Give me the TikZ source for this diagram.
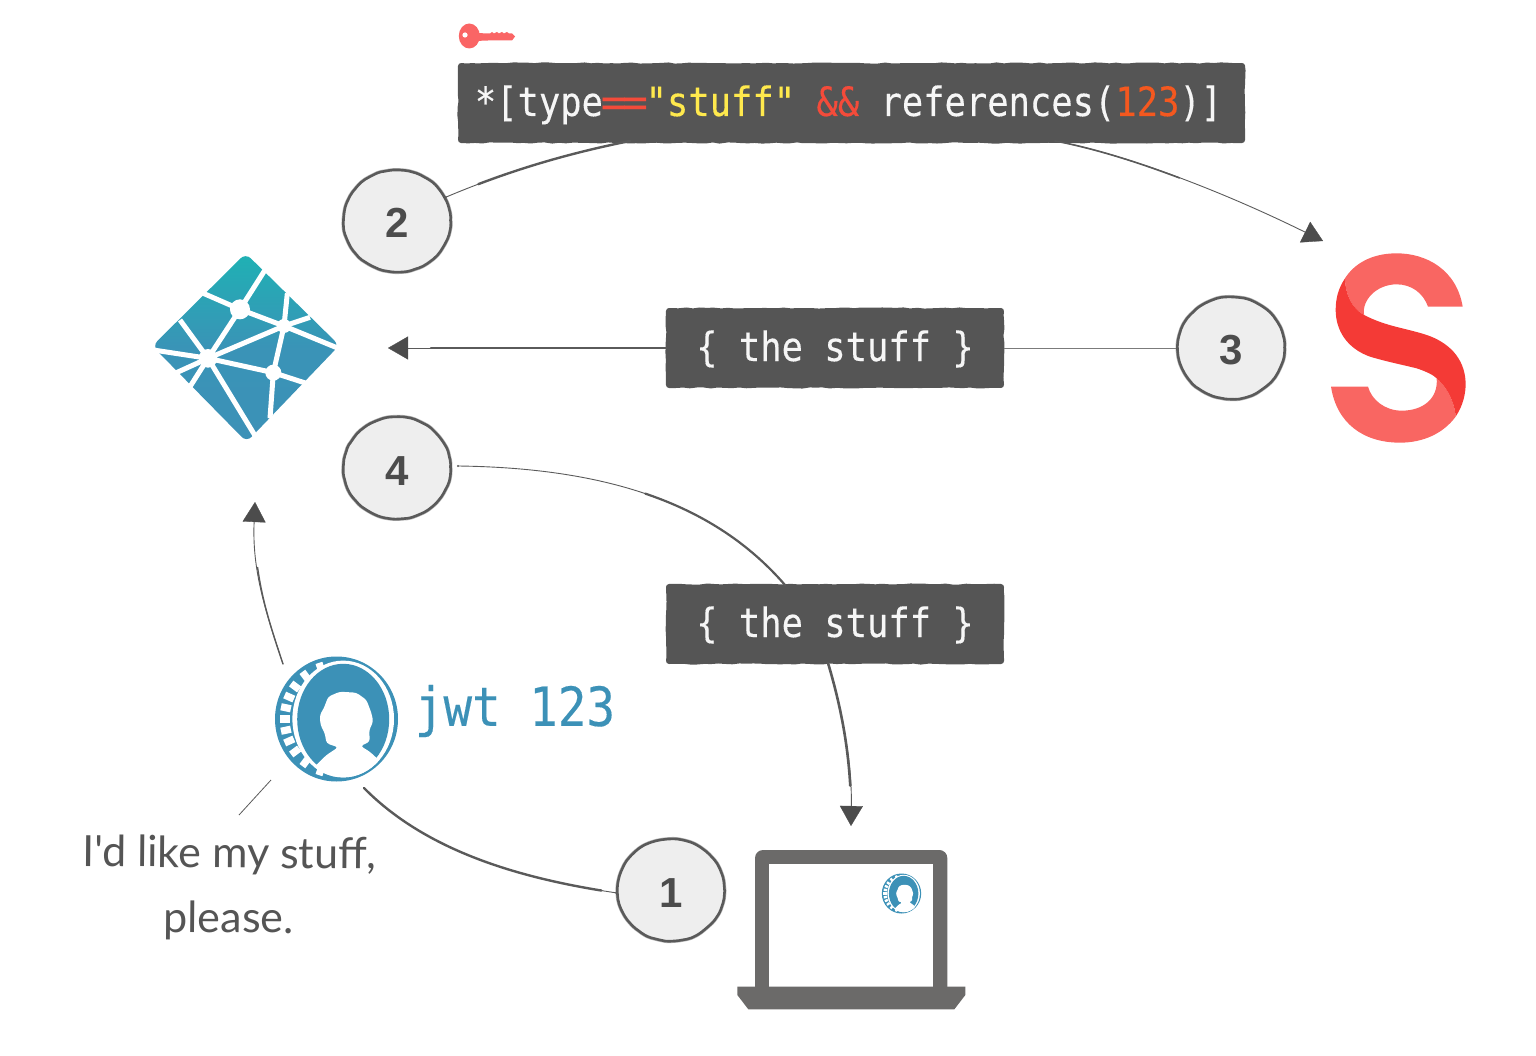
\documentclass[tikz,border=0pt]{standalone}
\usepackage{fontspec}
\usetikzlibrary{arrows.meta,decorations.pathmorphing,shapes.geometric}
\newfontfamily\codefont[FakeStretch=0.88,FakeBold=0.25]{DejaVu Sans Mono}
\newfontfamily\numfont{Liberation Sans}
\newfontfamily\handfont{Lato}
\definecolor{boxgray}{HTML}{555555}
\definecolor{inkgray}{HTML}{5A5A5A}
\definecolor{circfill}{HTML}{EEEEEE}
\definecolor{brandblue}{HTML}{3C91B7}
\definecolor{netteal}{HTML}{1FB1B4}
\definecolor{codewhite}{HTML}{F6F6F6}
\definecolor{codeyellow}{HTML}{FFE94D}
\definecolor{codered}{HTML}{F44B3A}
\definecolor{codeorange}{HTML}{F4581F}
\definecolor{slight}{HTML}{F96662}
\definecolor{sdark}{HTML}{F43A36}
\definecolor{keyred}{HTML}{FA6565}
\definecolor{laptopgray}{HTML}{6B6A69}
\tikzset{
  codebox/.style={rectangle,fill=boxgray,draw=boxgray,line width=6pt,line join=round,inner sep=0pt,
    decorate,decoration={random steps,segment length=7pt,amplitude=.6pt},
    text=codewhite,font=\codefont\fontsize{40.3}{48}\selectfont,text height=32pt,text depth=6pt},
  stepnum/.style={ellipse,fill=circfill,draw=inkgray,line width=2.6pt,inner sep=0pt,
    minimum width=107pt,minimum height=102pt,text=inkgray!85!black,font=\numfont\bfseries\fontsize{42}{48}\selectfont,
    text height=34pt,text depth=0pt,
    decorate,decoration={random steps,segment length=6pt,amplitude=.4pt},rounded corners=2pt,
    preaction={draw=inkgray!45,line width=3.8pt}},
  link/.style={draw=inkgray,line width=.9pt},
  arrowlink/.style={link,-{Triangle[length=20pt,width=23pt,color=inkgray!85!black,fill=inkgray!85!black,line width=.3pt]}},
  thinlink/.style={draw=inkgray,line width=.8pt},
  inkthick/.style n args={3}{postaction={draw=inkgray,-,line width=#1,line cap=round,
    dash pattern=on 0pt off #2 on #3 off 3000pt}},
}
\newcommand{\coinmark}[3]{%
  \begin{scope}[shift={(#1,#2)},scale=#3]
    \fill[brandblue] (0,0) ellipse [x radius=61.5,y radius=62.5];
    \foreach \t in {-72,-53,-37,-24,-12,0,12,24,37,53,72}{
      \pgfmathsetmacro{\nx}{-51.7*cos(\t)}
      \pgfmathsetmacro{\ny}{54*sin(\t)}
      \fill[white,shift={(\nx,\ny)},rotate=180+\t] (-5,-3.6) rectangle (5,3.6);
    }
    \fill[white] (6.7,0) ellipse [x radius=50.8,y radius=58.4];
    \fill[brandblue] (6.7,0.3) ellipse [x radius=46,y radius=55.5];
    \begin{scope}
    \clip (6.7,0) ellipse [x radius=50.8,y radius=58.4];
    \fill[white,rounded corners=#3*3pt] (-24,50) -- (-19.3,45) -- (-10,36) -- (1.7,28.3) -- (-10,24.3) -- (-11.7,14.3)
      -- (-16,6) -- (-16.7,-4) -- (-12.7,-10.7) -- (-8.3,-22.3) -- (3.3,-27.3) -- (20,-26.3)
      -- (30,-19) -- (35,-5.7) -- (36.7,2.7) -- (32.7,11) -- (33.3,22.7) -- (24,27) -- (33.3,32.7)
      -- (39.3,38.3) -- (46,44) -- (23.3,64) -- (-10,64) -- cycle;
    \end{scope}
  \end{scope}}
% a wide equals glyph, so that two of them run together as one double bar
\newcommand{\wideeq}{\makebox[21.35pt][c]{\scalebox{1.2}[1]{=}}}
\pgfmathsetseed{42}
\begin{document}
\begin{tikzpicture}[x=1pt,y=-1pt]
\useasboundingbox (0,0) rectangle (1536,1056);

% key
\begin{scope}[keyred]
  \fill (469.3,36) ellipse [x radius=10.5,y radius=12.5];
  \fill (475,33) -- (490,33.5) -- (492,32) -- (494,33.5) -- (497,32) -- (499,33.5) -- (502,32) -- (504,33.5)
    -- (507,32) -- (509,33.5) -- (512,33.5) -- (515,36.5) -- (512,40.5) -- (488,40.5) -- (475,41) -- cycle;
  \fill[white] (465,35) circle (2.6);
\end{scope}

% boxes
\node[codebox,minimum width=781pt,minimum height=74pt] (query) at (851.5,103)
  {*[type\textcolor{codered}{\wideeq\wideeq}\textcolor{codeyellow}{"stuff"} \textcolor{codered}{\&\&} references(\textcolor{codeorange}{123})]\hspace*{6pt}};
\node[codebox,minimum width=332pt,minimum height=74pt] (resulta) at (835,348) {\{ the stuff \}};
\node[codebox,minimum width=332pt,minimum height=74pt] (resultb) at (835,624) {\{ the stuff \}};

% step circles
\node[stepnum] (one) at (671,890) {1};
\node[stepnum] (two) at (397,221) {2};
\node[stepnum] (three) at (1231,348) {3};
\node[stepnum] (four) at (397,468) {4};

% netlify logo
\begin{scope}[shift={(130,240)},scale=1/3]
  \shade[top color=netteal,bottom color=brandblue,middle color=brandblue!92!netteal,rounded corners=7pt]
    (347,40) -- (628,316) -- (350,606) -- (67,318) -- cycle;
  \begin{scope}[white,line width=5pt]
    \draw (330,208) -- (405,90);
    \draw (330,208) -- (220,160);
    \draw (330,208) -- (462,258);
    \draw (330,208) -- (234,355);
    \draw (462,258) -- (234,355);
    \draw (462,258) -- (430,398);
    \draw (234,355) -- (430,398);
    \draw (234,355) -- (150,240);
    \draw (234,355) -- (70,330);
    \draw (234,355) -- (135,400);
    \draw (234,355) -- (180,440);
    \draw (234,355) -- (380,595);
    \draw (462,258) -- (472,160);
    \draw (462,258) -- (540,232);
    \draw (462,258) -- (625,325);
    \draw (430,398) -- (420,535);
    \draw (430,398) -- (535,432);
  \end{scope}
  \fill[white] (330,208) circle (30);
  \fill[white] (462,258) circle (21);
  \fill[white] (234,355) circle (28);
  \fill[white] (430,398) circle (24);
\end{scope}
\coordinate (netright) at (388,348);
\coordinate (netbottom) at (255,502);

% sanity logo
\begin{scope}[shift={(1300,220)},scale=1/3]
  \fill[slight] (488,260) .. controls (470,150) and (380,100) .. (290,100)
    .. controls (210,100) and (160,135) .. (135,175)
    .. controls (135,220) and (155,265) .. (192,285)
    .. controls (185,240) and (230,193) .. (290,193)
    .. controls (335,193) and (370,220) .. (384,260) -- cycle;
  \fill[slight] (93,500) -- (204,500) .. controls (215,540) and (255,572) .. (305,572)
    .. controls (370,572) and (415,535) .. (410,475)
    .. controls (450,510) and (465,560) .. (467,590)
    .. controls (430,640) and (370,668) .. (300,668)
    .. controls (190,668) and (110,610) .. (93,500) -- cycle;
  \fill[sdark] (135,175) .. controls (115,205) and (107,235) .. (107,270)
    .. controls (107,330) and (140,385) .. (210,410)
    .. controls (260,425) and (310,435) .. (350,445)
    .. controls (380,455) and (400,465) .. (410,475)
    .. controls (450,510) and (465,560) .. (467,590)
    .. controls (490,555) and (497,520) .. (497,490)
    .. controls (495,410) and (440,365) .. (380,345)
    .. controls (320,325) and (260,320) .. (192,285)
    .. controls (155,265) and (135,220) .. (135,175) -- cycle;
\end{scope}
\coordinate (sanity) at (1323,241);

% coin
\coinmark{336.5}{719}{1}
\coordinate (coinbottom) at (364,788);
\coordinate (cointop) at (283,664);
\coordinate (coinleft) at (271,780);
\coordinate (captop) at (239,815);

\node[text=brandblue,font=\codefont\fontsize{54}{60}\selectfont,inner sep=0pt] (jwt) at (515,711) {jwt 123};

% laptop
\begin{scope}[shift={(720,830)},scale=1/3]
  \fill[laptopgray,rounded corners=8pt] (105,500) -- (105,60) -- (682,60) -- (682,500) -- cycle;
  \fill[white] (148,103) rectangle (640,472);
  \fill[laptopgray] (52,470) -- (736,470) -- (736,495) -- (703,538) -- (85,538) -- (52,495) -- cycle;
\end{scope}
\coinmark{901.5}{893.5}{0.32}
\coordinate (laptop) at (851,826);

% caption
\node[text=boxgray,font=\handfont\fontsize{43}{65}\selectfont,align=center,inner sep=0pt,rotate=-0.5] (caption) at (229,888)
  {I'd like my stuff,\\please.};

% connectors
\coordinate (qa) at (630,141);
\coordinate (qb) at (1055,141);
\coordinate (ra) at (785,585);
\coordinate (rb) at (828,663);
\coordinate (fourout) at (458,466);
\draw[link,inkthick={2.4pt}{35pt}{170pt}] (two.26) .. controls (510,170) and (570,153) .. (qa);
\draw[arrowlink,inkthick={1.6pt}{0pt}{130pt}] (qb) .. controls (1130,155) and (1230,195) .. (sanity);
\draw[link,draw=inkgray!80] (three.west) -- (resulta.east);
\draw[arrowlink,inkthick={2.4pt}{0pt}{235pt}] (resulta.west) -- (netright);
\draw[link,inkthick={2.2pt}{190pt}{170pt}] (fourout) .. controls (620,468) and (720,510) .. (ra);
\draw[arrowlink,inkthick={2.6pt}{0pt}{125pt}] (rb) .. controls (845,720) and (852,770) .. (laptop);
\draw[link,inkthick={2.4pt}{15pt}{270pt}] (one.183) .. controls (530,880) and (430,855) .. (coinbottom);
\draw[arrowlink,inkthick={1.4pt}{0pt}{100pt}] (cointop) .. controls (265,610) and (252,570) .. (netbottom);
\draw[thinlink] (coinleft) -- (captop);
\end{tikzpicture}
\end{document}
